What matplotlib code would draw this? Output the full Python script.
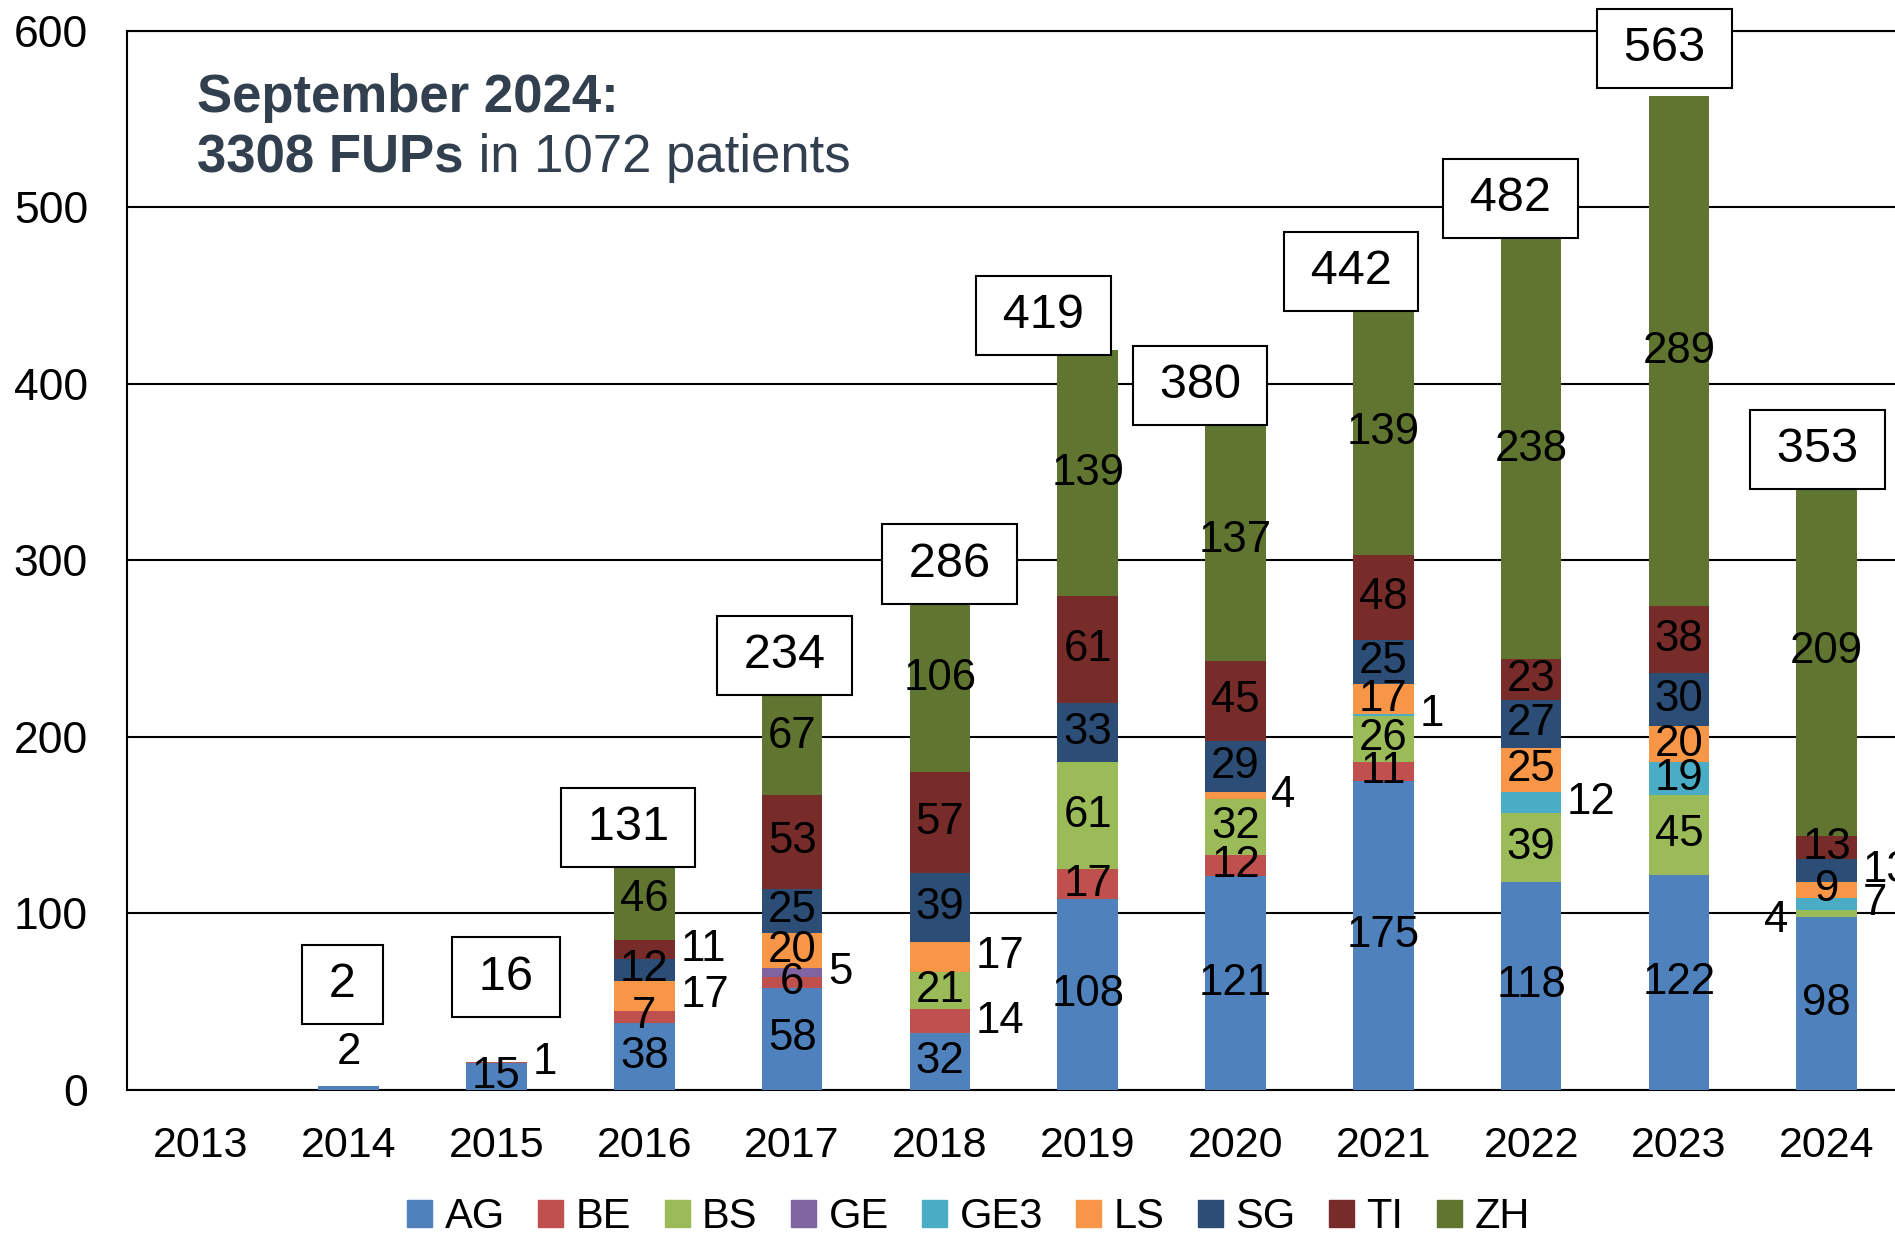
import matplotlib
matplotlib.use('Agg')
import matplotlib.pyplot as plt
from matplotlib.patches import Patch
import numpy as np

plt.rcParams['font.family'] = ['Liberation Sans', 'DejaVu Sans']

# data (FUPs per year and centre)
years = ['2013', '2014', '2015', '2016', '2017', '2018',
         '2019', '2020', '2021', '2022', '2023', '2024']
ag = [0, 2, 15, 38, 58, 32, 108, 121, 175, 118, 122, 98]
be = [0, 0, 1, 7, 6, 14, 17, 12, 11, 0, 0, 0]
bs = [0, 0, 0, 0, 0, 21, 61, 32, 26, 39, 45, 4]
ge = [0, 0, 0, 0, 5, 0, 0, 0, 0, 0, 0, 0]
ge3 = [0, 0, 0, 0, 0, 0, 0, 0, 1, 12, 19, 7]
ls = [0, 0, 0, 17, 20, 17, 0, 4, 17, 25, 20, 9]
sg = [0, 0, 0, 12, 25, 39, 33, 29, 25, 27, 30, 13]
ti = [0, 0, 0, 11, 53, 57, 61, 45, 48, 23, 38, 13]
zh = [0, 0, 0, 46, 67, 106, 139, 137, 139, 238, 289, 209]

names = ['AG', 'BE', 'BS', 'GE', 'GE3', 'LS', 'SG', 'TI', 'ZH']
series = [ag, be, bs, ge, ge3, ls, sg, ti, zh]
colors = ['#4F81BD', '#C0504D', '#9BBB59', '#8064A2', '#4BACC6',
          '#F79646', '#2C4D75', '#772C2A', '#5F7530']

# where the small segment labels sit (year index, centre)
outside_right = [(2, 'BE'), (3, 'LS'), (3, 'TI'), (4, 'GE'), (5, 'BE'), (5, 'LS'),
                 (7, 'LS'), (8, 'GE3'), (9, 'GE3'), (11, 'GE3'), (11, 'SG')]
outside_left = [(11, 'BS')]
above = [(1, 'AG')]

# total boxes: shift in categories and height above bar top
box_dx = [0, -0.04, 0.065, -0.11, -0.05, 0.065, -0.30, -0.24, -0.22, -0.14, -0.10, -0.06]
box_dy = [0, 58, 48, 17.5, 12, 12, 20, 19, 21.5, 23, 27, 10]

fig = plt.figure(figsize=(18.95, 12.4), dpi=100)
ax = fig.add_axes([0.067, 0.121, 0.936, 0.854])

x = np.arange(len(years))
w = 0.41
fs = 31.5
bottom = np.zeros(len(years))
for name, vals, col in zip(names, series, colors):
    vals = np.array(vals, dtype=float)
    ax.bar(x, vals, w, bottom=bottom, color=col, zorder=3, label=name)
    for i, v in enumerate(vals):
        if v == 0:
            continue
        yc = bottom[i] + v / 2
        if (i, name) in outside_right:
            ax.annotate(str(int(v)), (x[i] + w / 2, yc), xytext=(4, 0), textcoords='offset points',
                        ha='left', va='center', fontsize=fs, zorder=5)
        elif (i, name) in outside_left:
            ax.annotate(str(int(v)), (x[i] - w / 2, yc - 4), xytext=(-6, 0), textcoords='offset points',
                        ha='right', va='center', fontsize=fs, zorder=5)
        elif (i, name) in above:
            ax.annotate(str(int(v)), (x[i], bottom[i] + v), xytext=(0, 10), textcoords='offset points',
                        ha='center', va='bottom', fontsize=fs, zorder=5)
        else:
            ax.text(x[i], yc, str(int(v)), ha='center', va='center', fontsize=fs, zorder=5)
    bottom += vals

totals = bottom
for i, t in enumerate(totals):
    if t == 0:
        continue
    # thin spaces widen the box a little, like the Excel labels
    ax.text(x[i] + box_dx[i], t + box_dy[i], '\u2009' + str(int(t)) + '\u2009',
            ha='center', va='center', fontsize=35, zorder=6, clip_on=False,
            bbox=dict(boxstyle='square,pad=0.35', fc='white', ec='black', lw=1.5))

ax.set_xlim(-0.5, 11.5)
ax.set_ylim(0, 600)
ax.set_yticks(range(0, 601, 100))
ax.set_xticks(x)
ax.set_xticklabels(years)
ax.tick_params(axis='x', length=0, labelsize=31, pad=26)
ax.tick_params(axis='y', length=0, labelsize=32, pad=28)
ax.yaxis.grid(True, color='black', lw=1.5, zorder=0)
ax.set_axisbelow(True)
for s in ['left', 'bottom', 'top']:
    ax.spines[s].set_color('black')
    ax.spines[s].set_linewidth(1.5)
ax.spines['right'].set_visible(False)

# note in the upper left
note_col = '#323F4F'
fig.text(0.104, 0.91, 'September 2024:', fontsize=38, fontweight='bold',
         color=note_col, va='baseline')
t1 = fig.text(0.104, 0.861, '3308 FUPs', fontsize=38, fontweight='bold',
              color=note_col, va='baseline')
ax.annotate(' in 1072 patients', xy=(1, 0), xycoords=t1, fontsize=38,
            color=note_col, va='bottom', ha='left')

handles = [Patch(color=c) for c in colors]
fig.legend(handles, names, loc='center', bbox_to_anchor=(0.511, 0.0185), ncol=9,
           frameon=False, fontsize=30, handlelength=0.6, handleheight=0.6,
           handletextpad=0.3, columnspacing=0.8, borderpad=0, borderaxespad=0)

fig.savefig('out.png', dpi=100)
